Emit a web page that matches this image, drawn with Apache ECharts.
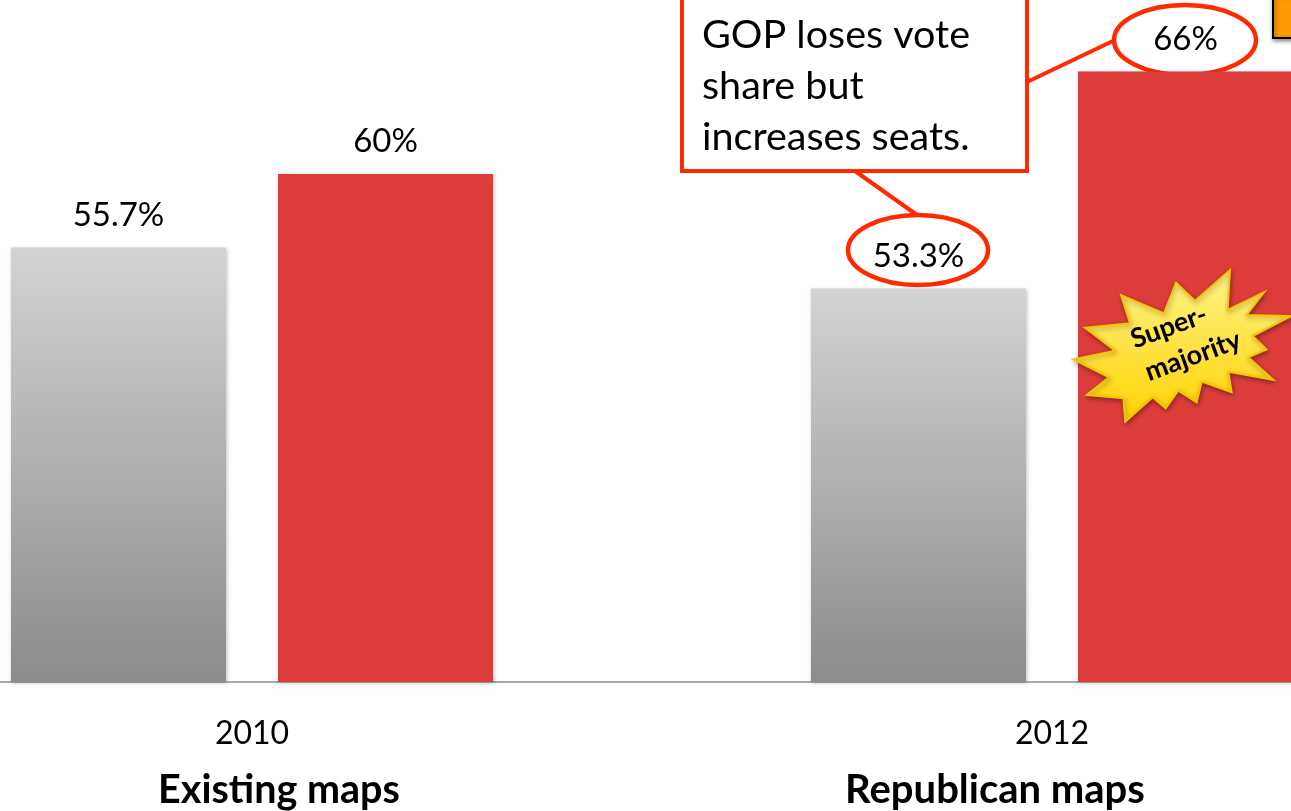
<!DOCTYPE html>
<html><head><meta charset="utf-8">
<style>html,body{margin:0;padding:0;background:#fff;overflow:hidden}#c{width:1291px;height:811px}</style>
<script src="https://cdn.jsdelivr.net/npm/echarts@6/dist/echarts.min.js"></script>
</head><body><div id="c"></div>
<script>
const categories = ['2010', '2012'];
const mapLabels = ['Existing maps', 'Republican maps'];
const voteShare = [55.7, 53.3];
const seatShare = [60, 66];
const F = 'Lato, sans-serif';
const RED = '#ff2a00';
const starZoom = [[510,30],[503,150],[612,97],[560,165],[693,168],[578,228],[620,268],[565,292],[640,360],[505,335],[515,397],[425,365],[410,427],[355,392],[317,445],[278,412],[196,485],[190,415],[80,405],[147,352],[40,298],[165,272],[75,203],[210,190],[183,105],[312,160],[348,68],[405,122]];
const star = starZoom.map(p => [1060 + p[0] / 3, 260 + p[1] / 3]);
const lbl = {show:true, position:'top', distance:16, color:'#000', fontFamily:F, fontSize:33, formatter:p=>p.value+'%'};
const chart = echarts.init(document.getElementById('c'), null, {renderer:'canvas'});
chart.setOption({
  animation:false,
  backgroundColor:'#fff',
  grid:{left:-148, width:1600, top:3, height:679, containLabel:false, outerBoundsMode:'none'},
  xAxis:{type:'category', data:categories,
    axisLine:{lineStyle:{color:'#a8a8a8', width:2}}, axisTick:{show:false},
    axisLabel:{margin:36, interval:0, color:'#000', fontFamily:F, fontSize:32}},
  yAxis:{type:'value', min:30.3, max:70, show:false, splitLine:{show:false}},
  series:[
    {name:'Vote share', type:'bar', z:2, data:voteShare, barWidth:215, barGap:'24.2%', label:lbl,
     itemStyle:{color:{type:'linear',x:0,y:0,x2:0,y2:1,colorStops:[{offset:0,color:'#d3d3d3'},{offset:1,color:'#8c8c8c'}]},
       shadowBlur:4, shadowColor:'rgba(0,0,0,0.25)', shadowOffsetX:1, shadowOffsetY:1}},
    {name:'Seat share', type:'bar', z:2, data:seatShare, barWidth:215, label:lbl,
     itemStyle:{color:'#dc3d3b', shadowBlur:4, shadowColor:'rgba(0,0,0,0.25)', shadowOffsetX:1, shadowOffsetY:1}}
  ],
  graphic:[
    {type:'rect', z:1, shape:{x:1273,y:-6,width:30,height:44}, style:{fill:'#ff9900', stroke:'#000', lineWidth:2, shadowBlur:4, shadowColor:'rgba(0,0,0,0.45)', shadowOffsetX:1, shadowOffsetY:2}},
    {type:'line', z:3, shape:{x1:855,y1:171,x2:917,y2:215}, style:{stroke:RED, lineWidth:4}},
    {type:'line', z:3, shape:{x1:1027,y1:82,x2:1115,y2:40}, style:{stroke:RED, lineWidth:4}},
    {type:'rect', z:3, shape:{x:682,y:-6,width:345,height:177}, style:{fill:'#fff', stroke:RED, lineWidth:4}},
    {type:'text', z:4, x:702, y:10, style:{text:'GOP loses vote\nshare but\nincreases seats.', fontFamily:F, fontSize:39.5, lineHeight:51, fill:'#000'}},
    {type:'ellipse', z:2, z2:0.5, shape:{cx:918,cy:250,rx:70,ry:35}, style:{fill:'#fff', stroke:RED, lineWidth:4.5}},
    {type:'ellipse', z:2, z2:0.5, shape:{cx:1185,cy:40,rx:71,ry:35}, style:{fill:'#fff', stroke:RED, lineWidth:4.5}},
    {type:'polygon', z:5, shape:{points:star}, style:{fill:{type:'linear',x:0,y:0,x2:0,y2:1,colorStops:[{offset:0,color:'#fff48a'},{offset:1,color:'#ffd200'}]}, stroke:'#f6c400', lineWidth:2, shadowBlur:5, shadowColor:'rgba(0,0,0,0.35)', shadowOffsetX:1, shadowOffsetY:2}},
    {type:'text', z:6, x:1169, y:327, rotation:20*Math.PI/180, style:{text:'Super-', fontFamily:F, fontSize:27, fontWeight:'bold', fill:'#000', align:'center', verticalAlign:'middle'}},
    {type:'text', z:6, x:1193, y:356, rotation:20*Math.PI/180, style:{text:'majority', fontFamily:F, fontSize:27, fontWeight:'bold', fill:'#000', align:'center', verticalAlign:'middle'}},
    {type:'text', z:6, x:279, y:790, style:{text:mapLabels[0], fontFamily:F, fontSize:39.5, fontWeight:'bold', fill:'#000', align:'center', verticalAlign:'middle'}},
    {type:'text', z:6, x:995, y:790, style:{text:mapLabels[1], fontFamily:F, fontSize:40, fontWeight:'bold', fill:'#000', align:'center', verticalAlign:'middle'}}
  ]
});
</script></body></html>
